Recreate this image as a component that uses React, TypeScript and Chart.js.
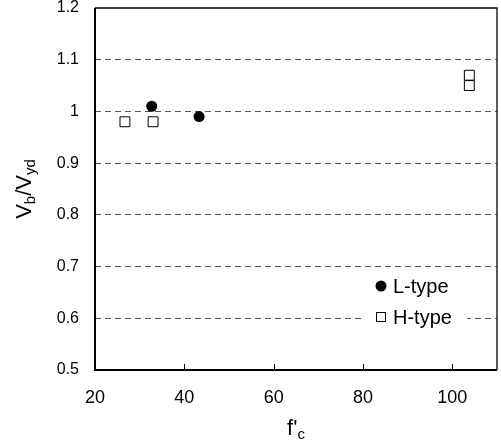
import React, { useEffect, useRef } from "react";
import { Chart, registerables } from "chart.js";

Chart.register(...registerables);

const lTypeX = [32.7, 43.3];
const lTypeY = [1.01, 0.99];
const hTypeX = [26.7, 33.0, 103.8, 103.8];
const hTypeY = [0.98, 0.98, 1.07, 1.05];
const legendLabels = ["L-type", "H-type"];
const xTicks = [20, 40, 60, 80, 100];

const FONT = "'Liberation Sans', Arial, sans-serif";

const legendBgPlugin = {
  id: "legendBg",
  beforeDatasetsDraw(chart: any) {
    const ctx = chart.ctx as CanvasRenderingContext2D;
    const { right } = chart.chartArea;
    ctx.save();
    ctx.fillStyle = "#fff";
    ctx.fillRect(right - 134, 272, 104, 58);
    ctx.restore();
  },
};

const decorPlugin = {
  id: "decor",
  afterDraw(chart: any) {
    const ctx = chart.ctx as CanvasRenderingContext2D;
    const { left, right, top, bottom } = chart.chartArea;
    const xs = chart.scales.x;
    ctx.save();
    // box
    ctx.strokeStyle = "#000";
    ctx.lineWidth = 1.3;
    ctx.beginPath();
    ctx.moveTo(left, top);
    ctx.lineTo(right, top);
    ctx.lineTo(right, bottom);
    ctx.stroke();
    ctx.lineWidth = 2;
    ctx.beginPath();
    ctx.moveTo(left, top);
    ctx.lineTo(left, bottom);
    ctx.lineTo(right, bottom);
    ctx.stroke();
    // inward ticks
    ctx.lineWidth = 1;
    xTicks.slice(1).forEach((v) => {
      const px = Math.round(xs.getPixelForValue(v)) + 0.5;
      ctx.beginPath();
      ctx.moveTo(px, bottom);
      ctx.lineTo(px, bottom - 6);
      ctx.stroke();
    });

    ctx.fillStyle = "#000";
    ctx.textBaseline = "alphabetic";
    // y title: V_b/V_yd
    const big = "22px " + FONT;
    const small = "15px " + FONT;
    const segs: [string, boolean][] = [
      ["V", false],
      ["b", true],
      ["/V", false],
      ["yd", true],
    ];
    let total = 0;
    segs.forEach(([t, s]) => {
      ctx.font = s ? small : big;
      total += ctx.measureText(t).width;
    });
    ctx.translate(31, (top + bottom) / 2);
    ctx.rotate(-Math.PI / 2);
    let cx = -total / 2;
    segs.forEach(([t, s]) => {
      ctx.font = s ? small : big;
      ctx.fillText(t, cx, s ? 4 : 0);
      cx += ctx.measureText(t).width;
    });
    ctx.setTransform(1, 0, 0, 1, 0, 0);

    // x title f'c
    const t1 = "f'";
    const t2 = "c";
    ctx.font = big;
    const w1 = ctx.measureText(t1).width;
    ctx.font = small;
    const w2 = ctx.measureText(t2).width;
    const xc = (left + right) / 2 - (w1 + w2) / 2;
    ctx.font = big;
    ctx.fillText(t1, xc, 435);
    ctx.font = small;
    ctx.fillText(t2, xc + w1, 439);

    // legend
    const lx = right - 116;
    const ly1 = 286;
    const ly2 = 317;
    ctx.beginPath();
    ctx.arc(lx, ly1, 5.5, 0, Math.PI * 2);
    ctx.fill();
    ctx.fillStyle = "#fff";
    ctx.fillRect(lx - 5, ly2 - 5, 10, 10);
    ctx.lineWidth = 1;
    ctx.strokeStyle = "#000";
    ctx.strokeRect(lx - 4.5, ly2 - 4.5, 9, 9);
    ctx.fillStyle = "#000";
    ctx.font = "20px " + FONT;
    ctx.textBaseline = "middle";
    ctx.fillText(legendLabels[0], lx + 12, ly1 + 1);
    ctx.fillText(legendLabels[1], lx + 12, ly2 + 1);
    ctx.restore();
  },
};

const zeroPad = (s: any) => {
  s.paddingTop = 0;
  s.paddingBottom = 0;
  s.paddingLeft = 0;
  s.paddingRight = 0;
};

export default function App() {
  const ref = useRef<HTMLCanvasElement | null>(null);
  useEffect(() => {
    document.body.style.margin = "0";
    const canvas = ref.current;
    if (!canvas) return;
    const chart = new Chart(canvas, {
      type: "scatter",
      data: {
        datasets: [
          {
            label: legendLabels[0],
            data: lTypeX.map((x, i) => ({ x, y: lTypeY[i] })),
            pointStyle: "circle",
            pointRadius: 5.5,
            backgroundColor: "#000",
            borderColor: "#000",
            borderWidth: 0,
          },
          {
            label: legendLabels[1],
            data: hTypeX.map((x, i) => ({ x, y: hTypeY[i] })),
            pointStyle: "rect",
            pointRadius: 7,
            backgroundColor: "#fff",
            borderColor: "#000",
            borderWidth: 1,
          },
        ],
      },
      options: {
        responsive: false,
        animation: false,
        devicePixelRatio: 1,
        layout: { autoPadding: false, padding: { top: 8, right: 4, left: 0, bottom: 0 } },
        plugins: {
          legend: { display: false },
          tooltip: { enabled: false },
        },
        scales: {
          x: {
            type: "linear",
            min: 20,
            max: 110,
            afterFit: (s: any) => {
              s.height = 75;
              zeroPad(s);
            },
            ticks: {
              stepSize: 20,
              includeBounds: false,
              padding: 19,
              color: "#000",
              font: { family: FONT, size: 18, lineHeight: 1 },
            },
            grid: { display: false, drawTicks: false },
            border: { display: false },
          },
          y: {
            type: "linear",
            min: 0.5,
            max: 1.2,
            afterFit: (s: any) => {
              s.width = 95;
              zeroPad(s);
            },
            ticks: {
              stepSize: 0.1,
              padding: 16,
              color: "#000",
              font: { family: FONT, size: 16, lineHeight: 1 },
              callback: (v: any) => String(Number(Number(v).toFixed(1))),
            },
            grid: {
              drawTicks: false,
              lineWidth: 1,
              color: (c: any) => {
                const v = c.tick ? c.tick.value : 0;
                if (Math.abs(v - 0.5) < 1e-6 || Math.abs(v - 1.2) < 1e-6) return "rgba(0,0,0,0)";
                return "#555";
              },
            },
            border: { display: false, dash: [6, 4] },
          },
        },
      },
      plugins: [legendBgPlugin, decorPlugin],
    });
    return () => chart.destroy();
  }, []);
  return <canvas ref={ref} width={501} height={445} style={{ display: "block" }} />;
}
